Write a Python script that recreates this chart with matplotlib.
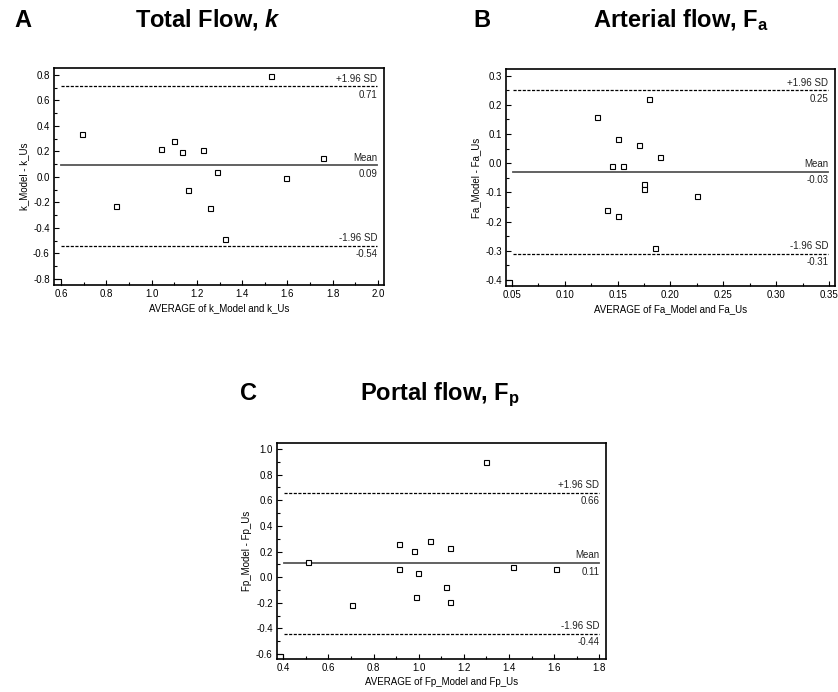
import numpy as np
import matplotlib.pyplot as plt
from matplotlib.ticker import MultipleLocator, FormatStrFormatter

plt.rcParams['font.family'] = ['Liberation Sans', 'DejaVu Sans']
plt.rcParams['mathtext.fontset'] = 'custom'
plt.rcParams['mathtext.rm'] = 'Liberation Sans:bold'
plt.rcParams['mathtext.it'] = 'Liberation Sans:bold:italic'

# Panel A - total flow k
k_avg = [0.691, 0.844, 1.041, 1.099, 1.134, 1.160, 1.225, 1.260, 1.290, 1.326, 1.526, 1.594, 1.759]
k_diff = [0.34, -0.23, 0.22, 0.285, 0.195, -0.10, 0.215, -0.24, 0.04, -0.49, 0.79, -0.01, 0.145]
k_lines = [0.71, 0.09, -0.54]

# Panel B - arterial flow Fa
fa_avg = [0.1306, 0.150, 0.145, 0.155, 0.170, 0.1797, 0.1898, 0.175, 0.175, 0.140, 0.150, 0.185, 0.2247]
fa_diff = [0.16, 0.082, -0.01, -0.01, 0.061, 0.22, 0.021, -0.07, -0.089, -0.16, -0.18, -0.29, -0.111]
fa_lines = [0.25, -0.03, -0.31]

# Panel C - portal flow Fp
fp_avg = [0.511, 0.703, 0.913, 0.913, 0.979, 0.995, 0.989, 1.051, 1.140, 1.121, 1.139, 1.300, 1.419, 1.610]
fp_diff = [0.12, -0.22, 0.26, 0.06, 0.205, 0.032, -0.157, 0.28, 0.225, -0.077, -0.197, 0.90, 0.082, 0.063]
fp_lines = [0.66, 0.11, -0.44]

line_labels = ['+1.96 SD', 'Mean', '-1.96 SD']


def bland_altman(ax, x, y, lines, xlim, ylim, xstart, ystart, xmaj, ymaj, xfmt, yfmt, xlabel, ylabel):
    ax.set_xlim(xlim)
    ax.set_ylim(ylim)
    ax.plot(x, y, linestyle='none', marker='s', markersize=3.6, markerfacecolor='white',
            markeredgecolor='black', markeredgewidth=0.8, zorder=3)
    for val, lab in zip(lines, line_labels):
        if lab == 'Mean':
            ax.axhline(val, xmin=0.02, xmax=0.98, color='#555555', lw=1.3)
        else:
            ax.axhline(val, xmin=0.02, xmax=0.98, color='black', lw=0.9, dashes=(2.5, 1.2))
        ax.annotate(lab, xy=(0.98, val), xycoords=('axes fraction', 'data'), xytext=(0, 2),
                    textcoords='offset points', ha='right', va='bottom', fontsize=7, color='#222222')
        ax.annotate('%.2f' % val, xy=(0.98, val), xycoords=('axes fraction', 'data'), xytext=(0, -2.5),
                    textcoords='offset points', ha='right', va='top', fontsize=7, color='#222222')
    # small corner mark at the origin
    ax.plot([xstart, xstart, xlim[0]], [ylim[0], ystart, ystart], color='black', lw=0.8, clip_on=False)
    ax.xaxis.set_major_locator(MultipleLocator(xmaj))
    ax.xaxis.set_minor_locator(MultipleLocator(xmaj / 2))
    ax.yaxis.set_major_locator(MultipleLocator(ymaj))
    ax.yaxis.set_minor_locator(MultipleLocator(ymaj / 2))
    ax.xaxis.set_major_formatter(FormatStrFormatter(xfmt))
    ax.yaxis.set_major_formatter(FormatStrFormatter(yfmt))
    ax.tick_params(which='both', direction='in', labelsize=7, colors='black', width=0.8, pad=3)
    ax.tick_params(which='major', length=3.5)
    ax.tick_params(which='minor', length=2.5)
    for s in ax.spines.values():
        s.set_linewidth(1.2)
    ax.set_xlabel(xlabel, fontsize=7, labelpad=3)
    ax.set_ylabel(ylabel, fontsize=7, labelpad=3)


fig = plt.figure(figsize=(8.38, 6.92), dpi=100)

axA = fig.add_axes([0.0644, 0.5882, 0.3938, 0.3136])
bland_altman(axA, k_avg, k_diff, k_lines, (0.569, 2.026), (-0.847, 0.855), 0.6, -0.8,
             0.2, 0.2, '%.1f', '%.1f', 'AVERAGE of k_Model and k_Us', 'k_Model - k_Us')

axB = fig.add_axes([0.6038, 0.5867, 0.3926, 0.3136])
bland_altman(axB, fa_avg, fa_diff, fa_lines, (0.0446, 0.3554), (-0.4206, 0.323), 0.05, -0.4,
             0.05, 0.1, '%.2f', '%.1f', 'AVERAGE of Fa_Model and Fa_Us', 'Fa_Model - Fa_Us')

axC = fig.add_axes([0.3305, 0.0477, 0.3926, 0.3121])
bland_altman(axC, fp_avg, fp_diff, fp_lines, (0.372, 1.8297), (-0.639, 1.047), 0.4, -0.6,
             0.2, 0.2, '%.1f', '%.1f', 'AVERAGE of Fp_Model and Fp_Us', 'Fp_Model - Fp_Us')

fig.text(14 / 838, 0.961, 'A', fontsize=17, fontweight='bold', ha='left', va='baseline')
fig.text(208 / 838, 0.961, 'Total Flow, $k$', fontsize=17, fontweight='bold', ha='center', va='baseline')
fig.text(473 / 838, 0.961, 'B', fontsize=17, fontweight='bold', ha='left', va='baseline')
fig.text(593 / 838, 0.961, r'Arterial flow, F$_\mathrm{a}$', fontsize=17, fontweight='bold', ha='left', va='baseline')
fig.text(240 / 838, 0.422, 'C', fontsize=17, fontweight='bold', ha='left', va='baseline')
fig.text(360 / 838, 0.422, r'Portal flow, F$_\mathrm{p}$', fontsize=17, fontweight='bold', ha='left', va='baseline')

fig.savefig('out.png', dpi=100)
